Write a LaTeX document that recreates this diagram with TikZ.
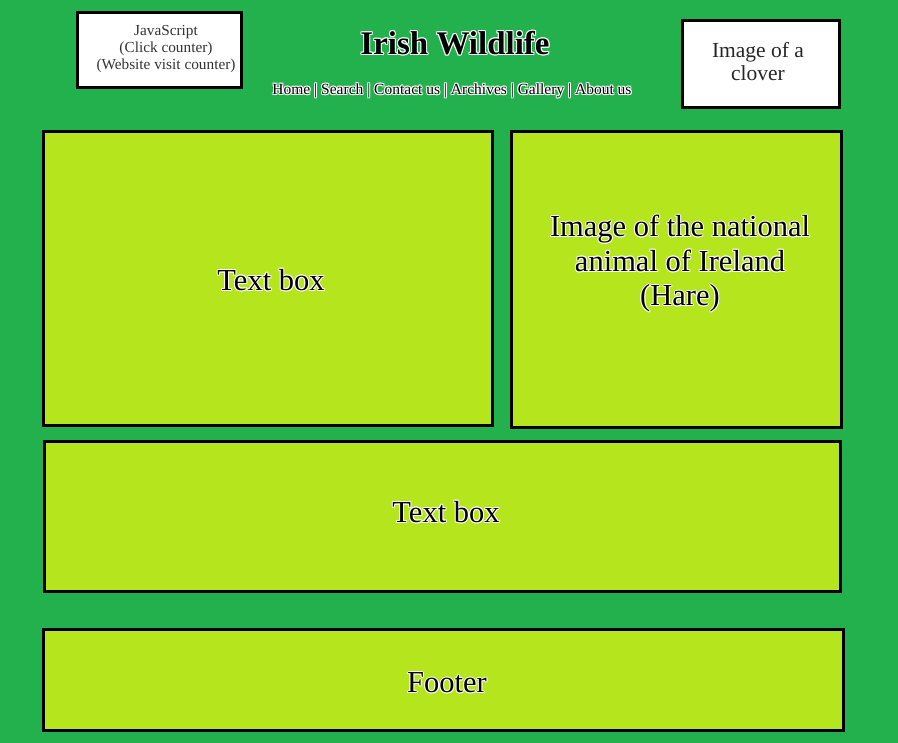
\documentclass[tikz,border=0pt]{standalone}
\usepackage{fontspec}
\setmainfont{Liberation Serif}
\definecolor{pagegreen}{HTML}{22B14C}
\definecolor{lime}{HTML}{B5E61D}
\definecolor{jsgray}{HTML}{333333}
\tikzset{
  panel/.style={draw=black, line width=3pt, fill=lime, inner sep=0pt},
  whitepanel/.style={draw=black, line width=3pt, fill=white, inner sep=0pt},
  label/.style={align=center, inner sep=0pt},
}
% text with a thin white glow around dark letters
\newcommand{\glowlabel}[4]{%
  \foreach \gx/\gy in {-1/0,1/0,0/-1,0/1,-0.8/-0.8,0.8/-0.8,-0.8/0.8,0.8/0.8}{%
    \node[label, font=#3, text=white, xshift=\gx pt, yshift=\gy pt] at (#2) {#4};}%
  \node[label, font=#3, text=black] (#1) at (#2) {#4};%
}
\begin{document}
\begin{tikzpicture}[x=1pt,y=-1pt]
  \fill[pagegreen] (0,0) rectangle (898,743);
  \useasboundingbox (0,0) rectangle (898,743);

  % header boxes
  \draw[whitepanel] (77.5,12.5) rectangle (241.5,87.5);
  \coordinate (jsc) at (166,49);
  \node[label, font=\fontsize{15.3}{17}\selectfont, text=jsgray] (js) at (jsc)
    {JavaScript\\(Click counter)\\(Website visit counter)};

  \draw[whitepanel] (682.5,20.5) rectangle (839.5,107.5);
  \node[label, font=\fontsize{21.5}{23}\selectfont, text=black!85] (clover) at (758,62)
    {Image of a\\clover};

  % title and navigation
  \coordinate (titlec) at (455,43);
  \glowlabel{title}{titlec}{\bfseries\fontsize{33}{36}\selectfont}{Irish Wildlife}
  \coordinate (navc) at (452,91);
  \glowlabel{nav}{navc}{\fontsize{15.5}{17}\selectfont}{Home | Search | Contact us | Archives | Gallery | About us}

  % content panels
  \draw[panel] (43.5,131.5) rectangle (492.5,425.5);
  \draw[panel] (511.5,131.5) rectangle (841.5,427.5);
  \draw[panel] (44.5,441.5) rectangle (840.5,591.5);
  \draw[panel] (43.5,629.5) rectangle (843.5,730.5);

  \coordinate (t1c) at (271,280);
  \glowlabel{text1}{t1c}{\fontsize{30.5}{34}\selectfont}{Text box}
  \coordinate (harec) at (680,264);
  \glowlabel{hare}{harec}{\fontsize{30.5}{34.5}\selectfont}{Image of the national\\animal of Ireland\\(Hare)}
  \coordinate (t2c) at (446,512);
  \glowlabel{text2}{t2c}{\fontsize{30.5}{34}\selectfont}{Text box}
  \coordinate (footc) at (447,683);
  \glowlabel{footer}{footc}{\fontsize{30.5}{34}\selectfont}{Footer}
\end{tikzpicture}
\end{document}
